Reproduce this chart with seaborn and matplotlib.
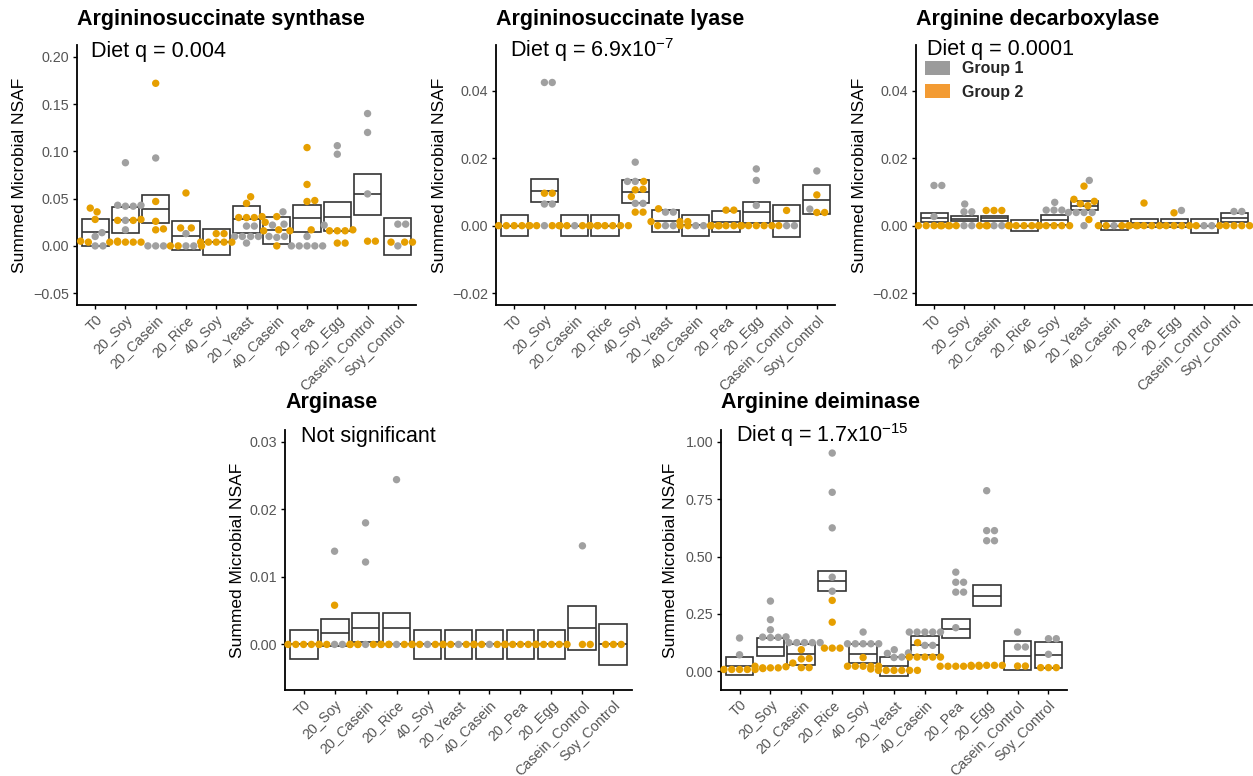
import numpy as np
import pandas as pd
import matplotlib
matplotlib.use("Agg")
import matplotlib.pyplot as plt
import seaborn as sns
from matplotlib.patches import Patch

# ---------------------------------------------------------------- data
categories = ["T0", "20_Soy", "20_Casein", "20_Rice", "40_Soy", "20_Yeast",
              "40_Casein", "20_Pea", "20_Egg", "Casein_Control", "Soy_Control"]
group_names = ["Group 1", "Group 2"]

# Argininosuccinate synthase
syn_g1 = [[0.014, 0.010, 0.0, 0.0],
          [0.088, 0.043, 0.043, 0.042, 0.042, 0.027, 0.017],
          [0.093, 0.0, 0.0, 0.0],
          [0.013, 0.0, 0.0],
          [],
          [0.021, 0.021, 0.010, 0.010, 0.010, 0.010, 0.003],
          [0.036, 0.023, 0.022, 0.010, 0.010, 0.009],
          [0.010, 0.0, 0.0, 0.0, 0.0, 0.0],
          [0.106, 0.097, 0.022],
          [0.140, 0.120, 0.055],
          [0.023, 0.023, 0.0]]
syn_g2 = [[0.040, 0.036, 0.028, 0.005, 0.005, 0.004, 0.004],
          [0.028, 0.027, 0.027, 0.004, 0.004, 0.004, 0.004],
          [0.172, 0.047, 0.026, 0.018, 0.017],
          [0.056, 0.019, 0.019, 0.0, 0.0, 0.0],
          [0.013, 0.013, 0.004, 0.004, 0.004, 0.004, 0.004],
          [0.052, 0.045, 0.031, 0.030, 0.030, 0.030],
          [0.031, 0.025, 0.017, 0.016, 0.016, 0.0],
          [0.104, 0.065, 0.048, 0.047, 0.017],
          [0.017, 0.016, 0.016, 0.016, 0.003, 0.003],
          [0.005, 0.005],
          [0.004, 0.004, 0.004]]
syn_mean = [0.0145, 0.0275, 0.039, 0.0107, 0.004, 0.028, 0.0165, 0.029, 0.031, 0.0545, 0.010]
syn_se = [0.0142, 0.0137, 0.0146, 0.0153, 0.014, 0.014, 0.0145, 0.0145, 0.015, 0.0215, 0.0195]

# Argininosuccinate lyase
lya_g1 = [[],
          [0.0424, 0.0424, 0.0064, 0.0064, 0.0],
          [0.0],
          [],
          [0.0188, 0.0131, 0.0131, 0.0066, 0.0066],
          [0.004, 0.004, 0.0, 0.0],
          [0.0, 0.0],
          [],
          [0.0168, 0.0134, 0.006],
          [0.0, 0.0],
          [0.0162, 0.0049]]
lya_g2 = [[0.0, 0.0, 0.0, 0.0, 0.0],
          [0.0096, 0.0096, 0.0, 0.0, 0.0, 0.0],
          [0.0, 0.0, 0.0, 0.0, 0.0],
          [0.0, 0.0, 0.0, 0.0, 0.0, 0.0],
          [0.0131, 0.0108, 0.0106, 0.0086, 0.0040, 0.0040],
          [0.005, 0.0012, 0.0012, 0.0012, 0.0],
          [0.0, 0.0, 0.0, 0.0],
          [0.0046, 0.0046, 0.0, 0.0, 0.0, 0.0, 0.0],
          [0.0, 0.0, 0.0, 0.0, 0.0],
          [0.0045, 0.0],
          [0.0091, 0.0039, 0.0039]]
lya_mean = [0.0, 0.0104, 0.0, 0.0, 0.0101, 0.0013, 0.0001, 0.0011, 0.0039, 0.0013, 0.0077]
lya_se = [0.0031, 0.0034, 0.0031, 0.0031, 0.0033, 0.0032, 0.0031, 0.0031, 0.0030, 0.0048, 0.0042]

# Arginine decarboxylase
dec_g1 = [[0.0119, 0.0119, 0.0027],
          [0.0064, 0.0041, 0.0041, 0.0, 0.0],
          [0.0, 0.0],
          [],
          [0.0069, 0.0046, 0.0046, 0.0046],
          [0.0134, 0.0039, 0.0039, 0.0039, 0.0039, 0.0],
          [0.0],
          [],
          [0.0045],
          [0.0, 0.0],
          [0.0042, 0.0042]]
dec_g2 = [[0.0, 0.0, 0.0, 0.0, 0.0],
          [0.0, 0.0, 0.0, 0.0, 0.0],
          [0.0045, 0.0045, 0.0045, 0.0, 0.0],
          [0.0, 0.0, 0.0, 0.0, 0.0],
          [0.0, 0.0, 0.0, 0.0, 0.0],
          [0.0117, 0.0078, 0.0072, 0.0065, 0.0059, 0.0018],
          [0.0, 0.0, 0.0, 0.0, 0.0],
          [0.0067, 0.0, 0.0, 0.0, 0.0, 0.0],
          [0.0038, 0.0, 0.0, 0.0, 0.0],
          [0.0, 0.0],
          [0.0, 0.0, 0.0, 0.0]]
dec_mean = [0.0024, 0.0021, 0.0022, 0.0, 0.0016, 0.0059, 0.0, 0.0008, 0.0008, 0.0, 0.0024]
dec_se = [0.0013, 0.0008, 0.0008, 0.0016, 0.0015, 0.0013, 0.0013, 0.0012, 0.0013, 0.0021, 0.0012]

# Arginase
arg_g1 = [[], [0.0138, 0.0, 0.0], [0.018, 0.0122, 0.0], [0.0244, 0.0], [0.0], [0.0],
          [0.0], [], [], [0.0146], []]
arg_g2 = [[0.0, 0.0, 0.0, 0.0, 0.0],
          [0.0058, 0.0, 0.0, 0.0, 0.0],
          [0.0, 0.0, 0.0, 0.0, 0.0],
          [0.0, 0.0, 0.0, 0.0],
          [0.0, 0.0, 0.0, 0.0],
          [0.0, 0.0, 0.0, 0.0],
          [0.0, 0.0, 0.0, 0.0],
          [0.0, 0.0, 0.0, 0.0, 0.0],
          [0.0, 0.0, 0.0, 0.0, 0.0],
          [0.0, 0.0],
          [0.0, 0.0, 0.0]]
arg_mean = [0.0, 0.0017, 0.0025, 0.0024, 0.0, 0.0, 0.0, 0.0, 0.0, 0.0024, 0.0]
arg_se = [0.0021, 0.0020, 0.0022, 0.0023, 0.0021, 0.0021, 0.0021, 0.0021, 0.0022, 0.0033, 0.0030]

# Arginine deiminase
dei_g1 = [[0.145, 0.072],
          [0.306, 0.225, 0.181, 0.150, 0.149, 0.148, 0.147],
          [0.125, 0.125, 0.125, 0.125, 0.125],
          [0.951, 0.780, 0.625, 0.410, 0.349],
          [0.171, 0.120, 0.120, 0.120, 0.120, 0.120],
          [0.094, 0.080, 0.078, 0.062, 0.060],
          [0.171, 0.171, 0.171, 0.171, 0.171, 0.113, 0.113],
          [0.432, 0.388, 0.388, 0.345, 0.345, 0.190],
          [0.787, 0.613, 0.613, 0.569, 0.569],
          [0.171, 0.106, 0.106],
          [0.142, 0.142, 0.074]]
dei_g2 = [[0.012, 0.008, 0.008, 0.008, 0.008, 0.008],
          [0.036, 0.022, 0.020, 0.015, 0.015, 0.015],
          [0.094, 0.056, 0.054, 0.016, 0.016],
          [0.309, 0.214, 0.101, 0.101, 0.101],
          [0.060, 0.022, 0.022, 0.022, 0.022, 0.022],
          [0.010, 0.004, 0.004, 0.004, 0.004, 0.004, 0.004],
          [0.125, 0.062, 0.062, 0.062, 0.062, 0.062],
          [0.022, 0.022, 0.022, 0.022, 0.022, 0.022],
          [0.026, 0.026, 0.026, 0.026, 0.026],
          [0.023, 0.023],
          [0.016, 0.016, 0.016]]
dei_mean = [0.023, 0.106, 0.074, 0.393, 0.077, 0.021, 0.113, 0.185, 0.330, 0.067, 0.072]
dei_se = [0.040, 0.040, 0.045, 0.045, 0.042, 0.040, 0.040, 0.042, 0.044, 0.063, 0.056]

# ---------------------------------------------------------------- style
sns.set_style("ticks")
plt.rcParams["font.family"] = ["Liberation Sans", "DejaVu Sans"]
plt.rcParams["mathtext.fontset"] = "custom"
plt.rcParams["mathtext.rm"] = "Liberation Sans"
plt.rcParams["mathtext.default"] = "regular"

POINT_COLORS = {"Group 1": "#A0A0A0", "Group 2": "#E69F00"}
KEY_COLORS = ["#9B9B9B", "#F39B33"]
TICK_GRAY = "#555555"
BOX_EDGE = "#333333"

W, H = 1253, 776
fig = plt.figure(figsize=(W / 100, H / 100), dpi=100)

POINT_D = 7.4     # marker diameter, px
SWARM_D = 7.8     # centre spacing used by the swarm layout, px


def swarm_offsets(y_px, d):
    """Beeswarm layout: place points bottom-up at the closest free x."""
    order = np.argsort(y_px, kind="stable")
    placed = []
    xs = np.zeros(len(y_px))
    for i in order:
        y = y_px[i]
        cands = [0.0]
        for px, py in placed:
            dy = abs(py - y)
            if dy < d:
                dx = np.sqrt(d * d - dy * dy) + 1e-6
                cands += [px + dx, px - dx]
        cands.sort(key=lambda c: (abs(c), -c))
        for c in cands:
            if all((c - px) ** 2 + (y - py) ** 2 >= d * d - 1e-6 for px, py in placed):
                xs[i] = c
                placed.append((c, y))
                break
    return xs


def fmt_tick(v):
    s = f"{v:.2f}"
    return s.replace("-", "\u2212")


def panel(rect_px, g1, g2, mean, se, ylim, yticks, title, note, note_xy,
          ylab_x, title_pad):
    left, top, right, bottom = rect_px
    ax = fig.add_axes([left / W, 1 - bottom / H, (right - left) / W, (bottom - top) / H])
    n = len(categories)
    xlim = (-0.6, n - 1 + 0.6)
    wpx, hpx = right - left, bottom - top
    ypx_per = hpx / (ylim[1] - ylim[0])
    xpx_per = wpx / (xlim[1] - xlim[0])

    rows = []
    for ci in range(n):
        vals = list(g1[ci]) + list(g2[ci])
        grp = ["Group 1"] * len(g1[ci]) + ["Group 2"] * len(g2[ci])
        if not vals:
            continue
        offs = swarm_offsets(np.array(vals) * ypx_per, SWARM_D) / xpx_per
        for v, g, o in zip(vals, grp, offs):
            rows.append({"diet": categories[ci], "value": v, "group": g, "xpos": ci + o})
    df = pd.DataFrame(rows)
    df["order"] = df["group"].map({"Group 1": 0, "Group 2": 1})
    df = df.sort_values("order", kind="stable")

    # crossbars: mean +/- standard error
    pos = np.arange(n)
    mean = np.asarray(mean)
    se = np.asarray(se)
    ax.bar(pos, 2 * se, bottom=mean - se, width=0.9, fill=False,
           edgecolor=BOX_EDGE, linewidth=1.2, zorder=1)
    ax.hlines(mean, pos - 0.45, pos + 0.45, color=BOX_EDGE, linewidth=1.2, zorder=1)

    sns.scatterplot(data=df, x="xpos", y="value", hue="group", palette=POINT_COLORS,
                    hue_order=group_names, s=(POINT_D * 0.72) ** 2, linewidth=0,
                    legend=False, ax=ax, zorder=3, clip_on=False)

    ax.set_xlim(*xlim)
    ax.set_ylim(*ylim)
    ax.set_yticks(yticks)
    ax.set_yticklabels([fmt_tick(t) for t in yticks])
    ax.set_xticks(pos)
    ax.set_xticklabels(categories, rotation=45, ha="right", va="top",
                       rotation_mode="anchor")
    ax.set_xlabel("")
    ax.set_ylabel("Summed Microbial NSAF", fontsize=12.5, color="black")
    ax.yaxis.set_label_coords(ylab_x, 0.5)
    ax.tick_params(axis="both", length=3.2, width=1.0, color="black",
                   labelcolor=TICK_GRAY, labelsize=10.3, pad=2.5)
    for side in ["top", "right"]:
        ax.spines[side].set_visible(False)
    for side in ["left", "bottom"]:
        ax.spines[side].set_linewidth(1.3)
        ax.spines[side].set_color("black")
    ax.set_title(title, loc="left", fontsize=15.5, fontweight="bold", pad=title_pad,
                 color="black")
    ax.text(note_xy[0], note_xy[1], note, transform=ax.transAxes, fontsize=15.5,
            ha="left", va="baseline", clip_on=False, zorder=5, color="black")
    return ax


ax1 = panel((77, 45, 416, 305), syn_g1, syn_g2, syn_mean, syn_se,
            (-0.0625, 0.2125), [-0.05, 0.0, 0.05, 0.10, 0.15, 0.20],
            "Argininosuccinate synthase", "Diet q = 0.004", (0.041, 0.955),
            -0.147, 14.5)
ax2 = panel((496, 45, 835, 305), lya_g1, lya_g2, lya_mean, lya_se,
            (-0.0235, 0.0535), [-0.02, 0.0, 0.02, 0.04],
            "Argininosuccinate lyase", "Diet q = 6.9x10$^{-7}$", (0.041, 0.955),
            -0.1445, 14.5)
ax3 = panel((916, 45, 1252, 305), dec_g1, dec_g2, dec_mean, dec_se,
            (-0.0235, 0.0535), [-0.02, 0.0, 0.02, 0.04],
            "Arginine decarboxylase", "Diet q = 0.0001", (0.033, 0.9615),
            -0.146, 14.5)
ax4 = panel((285, 430, 632, 690), arg_g1, arg_g2, arg_mean, arg_se,
            (-0.00675, 0.03175), [0.0, 0.01, 0.02, 0.03],
            "Arginase", "Not significant", (0.046, 0.955),
            -0.115, 15.5)
ax5 = panel((721, 430, 1067, 690), dei_g1, dei_g2, dei_mean, dei_se,
            (-0.0815, 1.0515), [0.0, 0.25, 0.50, 0.75, 1.00],
            "Arginine deiminase", "Diet q = 1.7x10$^{-15}$", (0.042, 0.955),
            -0.124, 15.5)

handles = [Patch(facecolor=c, edgecolor="none") for c in KEY_COLORS]
ax3.legend(handles, group_names, loc="upper left", bbox_to_anchor=(0.027, 0.94),
           frameon=False, prop={"weight": "bold", "size": 11.5},
           handlelength=1.55, handleheight=1.05, handletextpad=0.75,
           labelspacing=0.45, borderpad=0, borderaxespad=0)

fig.savefig("out.png", dpi=100)
